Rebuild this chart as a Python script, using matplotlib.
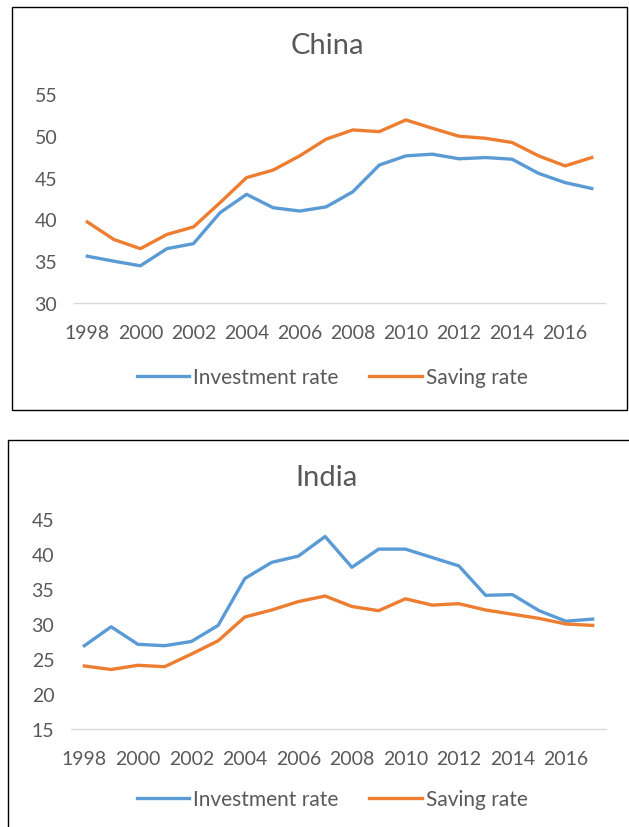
import matplotlib
matplotlib.use('Agg')
import matplotlib.pyplot as plt
from matplotlib.patches import Rectangle

years = list(range(1998, 2018))

china_invest = [35.6, 35.0, 34.45, 36.5, 37.1, 40.8, 43.0, 41.4, 41.0, 41.5,
                43.3, 46.5, 47.6, 47.8, 47.25, 47.4, 47.2, 45.5, 44.4, 43.7]
china_saving = [39.7, 37.6, 36.5, 38.2, 39.1, 42.0, 45.0, 45.9, 47.6, 49.6,
                50.7, 50.5, 51.9, 50.9, 49.95, 49.7, 49.2, 47.6, 46.4, 47.4]

india_invest = [26.9, 29.6, 27.1, 26.9, 27.5, 29.8, 36.5, 38.8, 39.7, 42.5,
                38.1, 40.7, 40.7, 39.5, 38.3, 34.1, 34.2, 31.9, 30.4, 30.7]
india_saving = [24.0, 23.5, 24.1, 23.9, 25.7, 27.6, 31.0, 32.0, 33.2, 34.0,
                32.5, 31.9, 33.6, 32.7, 32.9, 32.0, 31.4, 30.8, 30.0, 29.8]

xtick_years = list(range(1998, 2017, 2))

BLUE = '#5B9BD5'
ORANGE = '#ED7D31'
GREY = '#595959'

plt.rcParams['font.family'] = ['Lato', 'DejaVu Sans']

W, H = 629, 828
fig = plt.figure(figsize=(W / 100, H / 100), dpi=100)


def px_box(left, top, right, bottom):
    # pixel box -> figure fraction [x0, y0, w, h]
    return [left / W, 1 - bottom / H, (right - left) / W, (bottom - top) / H]


def draw_panel(frame, axbox, title, title_y, invest, saving, yticks, legend_y):
    fig.add_artist(Rectangle((frame[0], frame[1]), frame[2], frame[3],
                             transform=fig.transFigure, fill=False,
                             edgecolor='black', linewidth=1.0))
    ax = fig.add_axes(axbox)
    ax.plot(years, invest, color=BLUE, linewidth=2.4, label='Investment rate')
    ax.plot(years, saving, color=ORANGE, linewidth=2.4, label='Saving rate')
    ax.set_xlim(1997.5, 2017.5)
    ax.set_ylim(yticks[0], yticks[-1])
    ax.set_yticks(yticks)
    ax.set_xticks(xtick_years)
    ax.tick_params(length=0, labelsize=14, colors=GREY)
    ax.tick_params(axis='x', pad=15)
    ax.tick_params(axis='y', pad=12)
    for s in ['top', 'right', 'left']:
        ax.spines[s].set_visible(False)
    ax.spines['bottom'].set_color('#D9D9D9')
    ax.spines['bottom'].set_linewidth(1.0)
    fig.text(327 / W, 1 - title_y / H, title,
             ha='center', va='center', fontsize=21, color=GREY)
    fig.legend(handles=ax.get_lines(), loc='center',
               bbox_to_anchor=(0.528, 1 - legend_y / H), ncol=2, frameon=False,
               fontsize=15, handlelength=2.5, columnspacing=1.5,
               handletextpad=0.2, labelcolor=GREY)
    return ax


draw_panel(px_box(12, 8, 627, 411), px_box(74, 95, 605, 304), 'China', 46,
           china_invest, china_saving, [30, 35, 40, 45, 50, 55], 378)
draw_panel(px_box(8, 441, 640, 840), px_box(71, 520, 606, 730), 'India', 478,
           india_invest, india_saving, [15, 20, 25, 30, 35, 40, 45], 800)

fig.savefig('out.png', dpi=100)
